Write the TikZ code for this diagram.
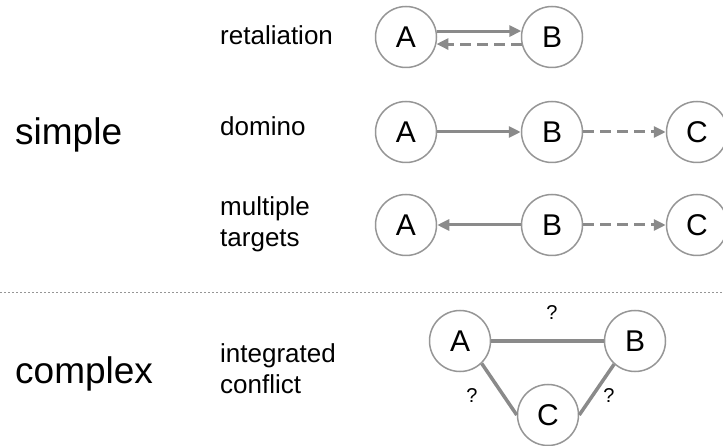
\documentclass[tikz,border=0pt]{standalone}
\usepackage{fontspec}
\setmainfont{Liberation Sans}
\usetikzlibrary{arrows.meta}
\definecolor{ringgray}{RGB}{150,150,150}
\definecolor{linkgray}{RGB}{138,138,138}
\definecolor{sepgray}{RGB}{150,150,150}

\begin{document}
\begin{tikzpicture}[x=1pt,y=-1pt,
  actor/.style={circle,draw=ringgray,line width=1.5pt,minimum size=61pt,inner sep=0pt,font=\fontsize{30}{30}\selectfont},
  kind/.style={anchor=base west,inner sep=0pt,font=\fontsize{37}{37}\selectfont},
  case/.style={anchor=west,inner sep=0pt,align=left,font=\fontsize{26}{31}\selectfont},
  hit/.style={draw=linkgray,line width=3pt,-{Triangle[length=12pt,width=11pt]}},
  hitback/.style={hit,dash pattern=on 11pt off 6pt},
  tie/.style={draw=linkgray,line width=3.5pt},
  ask/.style={inner sep=0pt,font=\fontsize{20}{20}\selectfont}]
\useasboundingbox (0,0) rectangle (723,446);

% Group labels
\node[kind] (simple) at (15,145) {simple};
\node[kind] (complex) at (15,383) {complex};

% Case labels
\node[case] (retal) at (220,35) {retaliation};
\node[case] (domino) at (220,126) {domino};
\node[case] (multi) at (220,224) {multiple\\targets};
\node[case] (integ) at (220,369) {integrated\\conflict};

% Retaliation
\node[actor] (ra) at (406,37) {A};
\node[actor] (rb) at (552,37) {B};
\draw[hit] (ra.11) -- (rb.169);
\draw[hitback] (rb.193) -- (ra.-13);

% Domino
\node[actor] (da) at (406,132) {A};
\node[actor] (db) at (552,132) {B};
\node[actor] (dc) at (697,132) {C};
\draw[hit] (da) -- (db);
\draw[hitback] (db) -- (dc);

% Multiple targets
\node[actor] (ma) at (406,225) {A};
\node[actor] (mb) at (552,225) {B};
\node[actor] (mc) at (697,225) {C};
\draw[hit] (mb) -- (ma);
\draw[hitback] (mb) -- (mc);

% Separator
\draw[sepgray,line width=1pt,dash pattern=on 2pt off 2pt] (0,293) -- (723,293);

% Integrated conflict
\node[actor] (ca) at (460,341) {A};
\node[actor] (cb) at (635,341) {B};
\node[actor] (cc) at (548,415) {C};
\draw[tie] (ca.east) -- (cb.west);
\draw[tie] (ca.-46) -- (cc.west);
\draw[tie] (cc.east) -- (cb.-132);
\node[ask] (qab) at (552,313) {?};
\node[ask] (qac) at (472,396) {?};
\node[ask] (qcb) at (609,396) {?};
\end{tikzpicture}
\end{document}
